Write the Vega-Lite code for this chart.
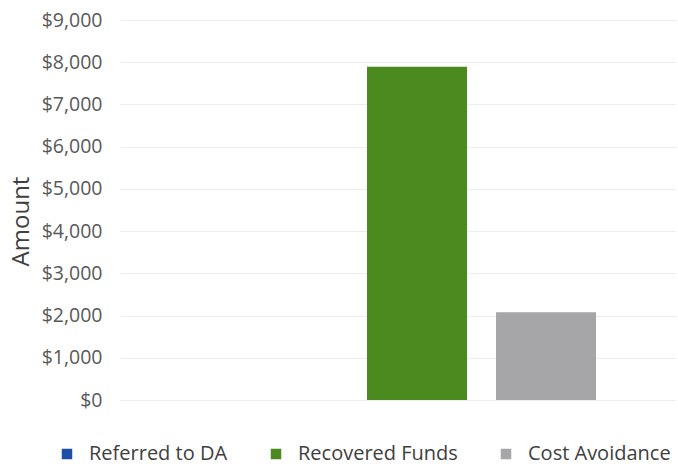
{
  "$schema": "https://vega.github.io/schema/vega-lite/v6.json",
  "width": 555,
  "height": 380,
  "autosize": {"type": "none"},
  "padding": {"left": 120, "top": 20, "right": 3, "bottom": 68},
  "background": "white",
  "config": {
    "view": {"stroke": null},
    "font": "Open Sans"
  },
  "data": {
    "values": [
      {"category": "Referred to DA", "amount": 0},
      {"category": "Recovered Funds", "amount": 7890},
      {"category": "Cost Avoidance", "amount": 2080}
    ]
  },
  "mark": {"type": "bar"},
  "encoding": {
    "x": {
      "field": "category",
      "type": "nominal",
      "sort": ["Referred to DA", "Recovered Funds", "Cost Avoidance"],
      "scale": {"paddingInner": 0.225, "paddingOuter": 0.7636, "align": 0.599},
      "axis": null
    },
    "y": {
      "field": "amount",
      "type": "quantitative",
      "scale": {"domain": [0, 9000]},
      "axis": {
        "title": "Amount",
        "titleFont": "Open Sans",
        "titleFontSize": 24,
        "titleFontWeight": "normal",
        "titleColor": "#404040",
        "titlePadding": 8,
        "titleY": 201,
        "values": [0, 1000, 2000, 3000, 4000, 5000, 6000, 7000, 8000, 9000],
        "format": "$,.0f",
        "labelFont": "Open Sans",
        "labelFontSize": 19.5,
        "labelColor": "#595959",
        "labelPadding": 18,
        "ticks": false,
        "domain": false,
        "grid": true,
        "gridColor": "#ededed",
        "gridWidth": 1
      }
    },
    "color": {
      "field": "category",
      "type": "nominal",
      "sort": ["Referred to DA", "Recovered Funds", "Cost Avoidance"],
      "scale": {
        "domain": ["Referred to DA", "Recovered Funds", "Cost Avoidance"],
        "range": ["#1f4ea6", "#4a8a1f", "#a6a6a9"]
      },
      "legend": {
        "title": null,
        "orient": "none",
        "direction": "horizontal",
        "legendX": -63,
        "legendY": 424,
        "symbolType": "square",
        "symbolSize": 110,
        "symbolStrokeWidth": 0,
        "labelFont": "Open Sans",
        "labelFontSize": 20,
        "labelColor": "#404040",
        "labelOffset": 12,
        "columnPadding": 38
      }
    }
  }
}
